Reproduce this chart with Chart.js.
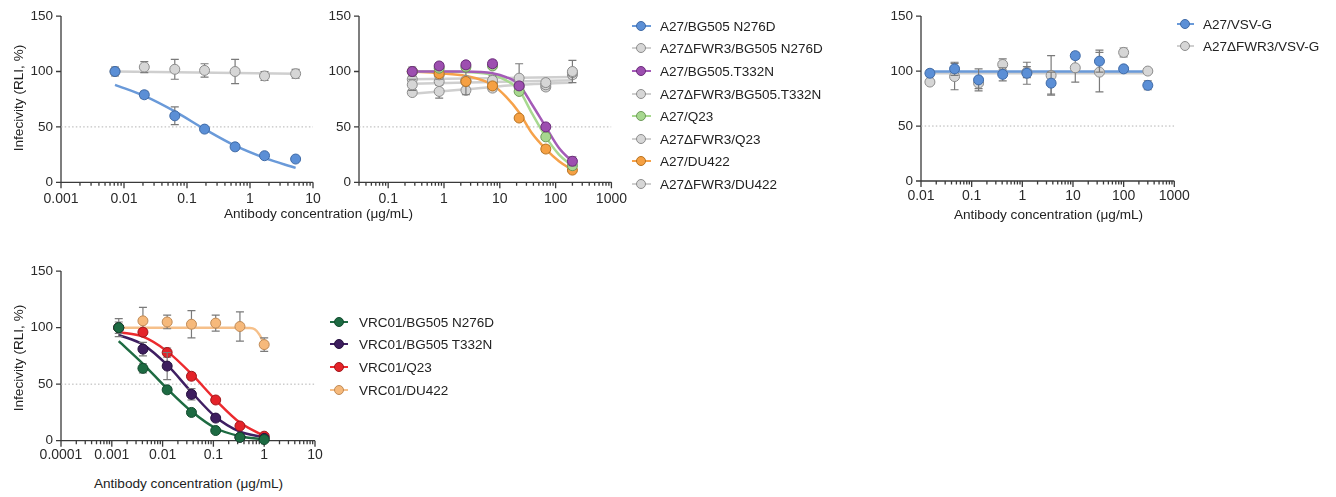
<!DOCTYPE html>
<html><head><meta charset="utf-8">
<script src="https://cdn.jsdelivr.net/npm/chart.js@4.4.1/dist/chart.umd.min.js"></script>
<style>
html,body{margin:0;padding:0;background:#fff;}
body{width:1336px;height:497px;position:relative;overflow:hidden;font-family:"Liberation Sans",Arial,sans-serif;color:#222;}
canvas{position:absolute;}
.t{position:absolute;white-space:nowrap;font-size:13.6px;color:#222;transform:translate(-50%,-50%);}
.yt{transform:translate(-50%,-50%) rotate(-90deg);}
.lgt{position:absolute;white-space:nowrap;font-size:13.5px;color:#222;transform:translateY(-50%);}
</style></head><body>
<canvas id="cA" style="left:0;top:0"></canvas>
<canvas id="cB" style="left:300px;top:0"></canvas>
<canvas id="cC" style="left:860px;top:0"></canvas>
<canvas id="cD" style="left:0;top:255px"></canvas>
<div class="t yt" style="left:17.5px;top:97.5px">Infecivity (RLI, %)</div>
<div class="t yt" style="left:17.5px;top:357.5px">Infecivity (RLI, %)</div>
<div class="t" style="left:318.5px;top:213px">Antibody concentration (μg/mL)</div>
<div class="t" style="left:1048.5px;top:214px">Antibody concentration (μg/mL)</div>
<div class="t" style="left:188.5px;top:483px">Antibody concentration (μg/mL)</div>
<script>
// ---------- tick labels ----------
const yTickVals = [0, 50, 100, 150];
const yTickLabels = ['0', '50', '100', '150'];
const xTicksA = [0.001, 0.01, 0.1, 1, 10];
const xLabelsA = ['0.001', '0.01', '0.1', '1', '10'];
const xTicksB = [0.1, 1, 10, 100, 1000];
const xLabelsB = ['0.1', '1', '10', '100', '1000'];
const xTicksC = [0.01, 0.1, 1, 10, 100, 1000];
const xLabelsC = ['0.01', '0.1', '1', '10', '100', '1000'];
const xTicksD = [0.0001, 0.001, 0.01, 0.1, 1, 10];
const xLabelsD = ['0.0001', '0.001', '0.01', '0.1', '1', '10'];
const halfLine = 50;

// ---------- panel A (A27 vs BG505 N276D) ----------
const concA = [0.0072, 0.021, 0.064, 0.19, 0.58, 1.7, 5.3];
const a27N276D = [100, 79, 60, 48, 32, 24, 21];
const a27N276D_err = [0, 3, 8, 0, 0, 0, 0];
const dN276D = [100, 104, 102, 101, 100, 96, 98];
const dN276D_err = [4, 5, 9, 6, 11, 4, 4];
const a27N276D_fit = [88, 78, 64, 48, 33, 22, 13];
const fitConcA2 = [0.0072, 5.3];
const dN276D_fit = [100, 98];

// ---------- panel B ----------
const concB = [0.27, 0.82, 2.47, 7.4, 22.2, 66.7, 200];
const a27T332N = [100, 105, 106, 107, 87, 50, 19];
const a27T332N_err = [4, 3, 3, 3, 2, 2, 4];
const dT332N = [88, 97, 92, 92, 94, 90, 100];
const dT332N_err = [5, 4, 13, 4, 13, 3, 10];
const a27Q23 = [100, 103, 104, 105, 82, 41, 15];
const a27Q23_err = [0, 0, 0, 0, 2, 2, 3];
const dQ23 = [93, 91, 91, 90, 88, 88, 99];
const dQ23_err = [3, 3, 3, 3, 3, 3, 3];
const a27DU422 = [100, 98, 91, 87, 58, 30, 11];
const a27DU422_err = [0, 0, 0, 3, 0, 3, 0];
const dDU422 = [81, 82, 83, 85, 86, 86, 97];
const dDU422_err = [2, 6, 3, 3, 3, 3, 3];
const fitConcB = [0.27, 0.82, 2.47, 7.4, 13, 22.2, 38, 66.7, 115, 200];
const a27T332N_fit = [100, 100, 100, 98.5, 95, 88, 70, 50, 31, 18.5];
const a27Q23_fit = [100, 100, 99.5, 97, 92, 83, 62, 41, 25, 14.5];
const a27DU422_fit = [100, 98.5, 96, 88, 77, 63, 44, 30, 19, 11];
const fitConcB2 = [0.27, 200];
const dT332N_fit = [93, 95];
const dQ23_fit = [89, 92];
const fitConcB3 = [0.27, 2.47, 22.2, 200];
const dDU422_fit = [80, 84, 88, 90];

// ---------- panel C (VSV-G) ----------
const concC = [0.015, 0.046, 0.137, 0.41, 1.23, 3.7, 11.1, 33.3, 100, 300];
const a27VSV = [98, 102, 92, 97, 98, 89, 114, 109, 102, 87];
const a27VSV_err = [3, 6, 10, 6, 10, 10, 3, 10, 2, 4];
const dVSV = [90, 95, 89, 106, 99, 96, 103, 99, 117, 100];
const dVSV_err = [2, 12, 5, 5, 5, 18, 13, 18, 4, 2];
const fitConcC = [0.015, 300];
const a27VSV_fit = [99.5, 99.5];
const dVSV_fit = [98, 98];

// ---------- panel D (VRC01) ----------
const concD = [0.00137, 0.0041, 0.0123, 0.037, 0.111, 0.333, 1];
const vN276D = [100, 64, 45, 25, 9, 3, 1];
const vN276D_err = [8, 4, 0, 0, 0, 0, 0];
const vT332N = [100, 81, 66, 41, 20, 3, 2];
const vT332N_err = [5, 6, 12, 5, 0, 0, 0];
const vQ23 = [100, 96, 78, 57, 36, 13, 4];
const vQ23_err = [0, 3, 4, 3, 0, 0, 0];
const vDU422 = [100, 106, 105, 103, 104, 101, 85];
const vDU422_err = [0, 12, 6, 12, 7, 13, 6];
const vN276D_fit = [88, 68, 46, 26, 11, 4, 1];
const vT332N_fit = [93.5, 85, 67, 43, 21, 8, 3];
const vQ23_fit = [96, 92, 79, 59, 36, 16, 4];
const fitConcD2 = [0.00137, 0.3, 0.5, 0.65, 0.8, 1];
const vDU422_fit = [100, 100, 99.7, 98.5, 94, 85.5];

// ---------- styles ----------
const C = {
  blue: ['#5b8fd6', '#3f6aa6', '#6a9ad9'],
  gray: ['#d6d6d6', '#8c8c8c', '#cfcfcf'],
  purple: ['#9d4fb0', '#6b2b7b', '#a45bb7'],
  green: ['#a7d88f', '#6e9a5a', '#a8d990'],
  orange: ['#f5a043', '#b8721f', '#f6a24a'],
  dgreen: ['#1d6a42', '#114a2d', '#1e6b42'],
  dpurple: ['#3d1d5e', '#26103e', '#3f1f62'],
  red: ['#e42329', '#a0161a', '#ec2a2e'],
  lorange: ['#f6b97b', '#bf8a56', '#f6c08a']
};
const FONT = '"Liberation Sans", Arial, sans-serif';

function xy(xs, ys) { return xs.map((x, i) => ({x: x, y: ys[i]})); }
function pts(xs, ys, err, col, order) {
  return {data: xy(xs, ys), err: err, showLine: false, pointRadius: 5, pointBorderWidth: 1,
    pointBackgroundColor: col[0], pointBorderColor: col[1], order: order, clip: false};
}
function curve(xs, ys, col, order) {
  return {data: xy(xs, ys), showLine: true, pointRadius: 0, borderColor: col[2], borderWidth: 2.5,
    cubicInterpolationMode: 'monotone', order: order, fill: false};
}
function refLine(xmin, xmax) {
  return {data: [{x: xmin, y: halfLine}, {x: xmax, y: halfLine}], showLine: true, pointRadius: 0,
    borderColor: '#b3b3b3', borderWidth: 1, borderDash: [1.5, 2.2], order: 100};
}

const errPlugin = {
  id: 'errbars',
  beforeDatasetDraw(chart, args) {
    const ds = chart.data.datasets[args.index];
    if (!ds.err) return;
    const ctx = chart.ctx, x = chart.scales.x, y = chart.scales.y;
    ctx.save(); ctx.strokeStyle = '#7a7a7a'; ctx.lineWidth = 1.2; ctx.beginPath();
    ds.data.forEach((p, i) => {
      const e = ds.err[i]; if (!e) return;
      const px = x.getPixelForValue(p.x), y1 = y.getPixelForValue(p.y + e), y2 = y.getPixelForValue(p.y - e);
      ctx.moveTo(px, y1); ctx.lineTo(px, y2);
      ctx.moveTo(px - 4, y1); ctx.lineTo(px + 4, y1);
      ctx.moveTo(px - 4, y2); ctx.lineTo(px + 4, y2);
    });
    ctx.stroke(); ctx.restore();
  }
};
const axesPlugin = {
  id: 'gpaxes',
  beforeDatasetsDraw(chart) {
    const ctx = chart.ctx, a = chart.chartArea, x = chart.scales.x, y = chart.scales.y;
    ctx.save(); ctx.strokeStyle = '#3a3a3a'; ctx.lineWidth = 1.3; ctx.beginPath();
    ctx.moveTo(a.left, a.top); ctx.lineTo(a.left, a.bottom); ctx.lineTo(a.right, a.bottom);
    yTickVals.forEach(v => { const py = y.getPixelForValue(v); ctx.moveTo(a.left - 5, py); ctx.lineTo(a.left, py); });
    const lo = Math.floor(Math.log10(x.min)), hi = Math.ceil(Math.log10(x.max));
    for (let e = lo; e <= hi; e++) {
      for (let m = 1; m <= 9; m++) {
        const v = m * Math.pow(10, e);
        if (v < x.min * 0.999 || v > x.max * 1.001) continue;
        const px = x.getPixelForValue(v);
        ctx.moveTo(px, a.bottom); ctx.lineTo(px, a.bottom + (m === 1 ? 6 : 3.5));
      }
    }
    ctx.stroke(); ctx.restore();
  }
};

function makeChart(id, W, H, area, xMin, xMax, xTicks, xLabels, xPad, datasets) {
  const el = document.getElementById(id);
  el.width = W; el.height = H; el.style.width = W + 'px'; el.style.height = H + 'px';
  datasets.unshift(refLine(xMin, xMax));
  return new Chart(el, {
    type: 'scatter',
    data: {datasets: datasets},
    options: {
      responsive: false, animation: false, devicePixelRatio: 1,
      layout: {padding: {left: 0, top: area.t, right: W - area.r, bottom: 0}},
      plugins: {legend: {display: false}, tooltip: {enabled: false}},
      scales: {
        x: {type: 'logarithmic', min: xMin, max: xMax,
          grid: {display: false, drawTicks: false}, border: {display: false},
          afterBuildTicks: s => { s.ticks = xTicks.map(v => ({value: v})); },
          afterFit: s => { s.height = H - area.b; },
          ticks: {autoSkip: false, maxRotation: 0, minRotation: 0, padding: xPad, color: '#2a2a2a',
            font: {size: 14, family: FONT},
            callback: (v, i) => xLabels[i]}},
        y: {type: 'linear', min: 0, max: 150,
          grid: {display: false, drawTicks: false}, border: {display: false},
          afterBuildTicks: s => { s.ticks = yTickVals.map(v => ({value: v})); },
          afterFit: s => { s.width = area.l; },
          ticks: {padding: 8, color: '#2a2a2a', font: {size: 13.5, family: FONT},
            callback: (v, i) => yTickLabels[i]}}
      }
    },
    plugins: [axesPlugin, errPlugin]
  });
}

makeChart('cA', 335, 215, {l: 61, t: 13.3, r: 313, b: 182.3}, 0.001, 10, xTicksA, xLabelsA, 8, [
  pts(concA, a27N276D, a27N276D_err, C.blue, 10),
  pts(concA, dN276D, dN276D_err, C.gray, 20),
  curve(concA, a27N276D_fit, C.blue, 40),
  curve(fitConcA2, dN276D_fit, C.gray, 50)
]);
makeChart('cB', 335, 215, {l: 59, t: 13.3, r: 312.7, b: 182.3}, 0.03, 1000, xTicksB, xLabelsB, 8, [
  pts(concB, a27T332N, a27T332N_err, C.purple, 10),
  pts(concB, a27Q23, a27Q23_err, C.green, 10),
  pts(concB, a27DU422, a27DU422_err, C.orange, 10),
  pts(concB, dT332N, dT332N_err, C.gray, 20),
  pts(concB, dQ23, dQ23_err, C.gray, 20),
  pts(concB, dDU422, dDU422_err, C.gray, 20),
  curve(fitConcB, a27T332N_fit, C.purple, 40),
  curve(fitConcB, a27Q23_fit, C.green, 40),
  curve(fitConcB, a27DU422_fit, C.orange, 40),
  curve(fitConcB2, dT332N_fit, C.gray, 50),
  curve(fitConcB2, dQ23_fit, C.gray, 50),
  curve(fitConcB3, dDU422_fit, C.gray, 50)
]);
makeChart('cC', 340, 215, {l: 61, t: 11.7, r: 314.3, b: 181}, 0.01, 1000, xTicksC, xLabelsC, 7, [
  pts(concC, a27VSV, a27VSV_err, C.blue, 10),
  pts(concC, dVSV, dVSV_err, C.gray, 20),
  curve(fitConcC, a27VSV_fit, C.blue, 40),
  curve(fitConcC, dVSV_fit, C.gray, 50)
]);
makeChart('cD', 335, 215, {l: 61, t: 16, r: 315, b: 185.7}, 0.0001, 10, xTicksD, xLabelsD, 6, [
  pts(concD, vN276D, vN276D_err, C.dgreen, 10),
  pts(concD, vT332N, vT332N_err, C.dpurple, 10),
  pts(concD, vQ23, vQ23_err, C.red, 10),
  pts(concD, vDU422, vDU422_err, C.lorange, 10),
  curve(concD, vN276D_fit, C.dgreen, 40),
  curve(concD, vT332N_fit, C.dpurple, 40),
  curve(concD, vQ23_fit, C.red, 40),
  curve(fitConcD2, vDU422_fit, C.lorange, 45)
]);

// ---------- legends ----------
const legendA = ['A27/BG505 N276D', 'A27ΔFWR3/BG505 N276D', 'A27/BG505.T332N', 'A27ΔFWR3/BG505.T332N',
  'A27/Q23', 'A27ΔFWR3/Q23', 'A27/DU422', 'A27ΔFWR3/DU422'];
const legendAColors = [C.blue, C.gray, C.purple, C.gray, C.green, C.gray, C.orange, C.gray];
const legendC = ['A27/VSV-G', 'A27ΔFWR3/VSV-G'];
const legendCColors = [C.blue, C.gray];
const legendD = ['VRC01/BG505 N276D', 'VRC01/BG505 T332N', 'VRC01/Q23', 'VRC01/DU422'];
const legendDColors = [C.dgreen, C.dpurple, C.red, C.lorange];

function addLegend(labels, cols, x0, x1, tx, y0, dy) {
  labels.forEach((lab, i) => {
    const y = y0 + i * dy, col = cols[i], cx = (x0 + x1) / 2;
    const ln = document.createElement('div');
    ln.style.cssText = `position:absolute;left:${x0}px;top:${y - 1}px;width:${x1 - x0}px;height:2px;background:${col[2]}`;
    const dot = document.createElement('div');
    dot.style.cssText = `position:absolute;left:${cx - 5}px;top:${y - 5}px;width:10px;height:10px;border-radius:50%;box-sizing:border-box;background:${col[0]};border:1px solid ${col[1]}`;
    const t = document.createElement('div');
    t.className = 'lgt'; t.style.left = tx + 'px'; t.style.top = y + 'px'; t.textContent = lab;
    document.body.appendChild(ln); document.body.appendChild(dot); document.body.appendChild(t);
  });
}
addLegend(legendA, legendAColors, 631.5, 650.5, 660, 25.7, 22.6);
addLegend(legendC, legendCColors, 1176.5, 1193.5, 1203, 23.5, 22.6);
addLegend(legendD, legendDColors, 330, 348, 359, 321.5, 22.7);
</script>
</body></html>
